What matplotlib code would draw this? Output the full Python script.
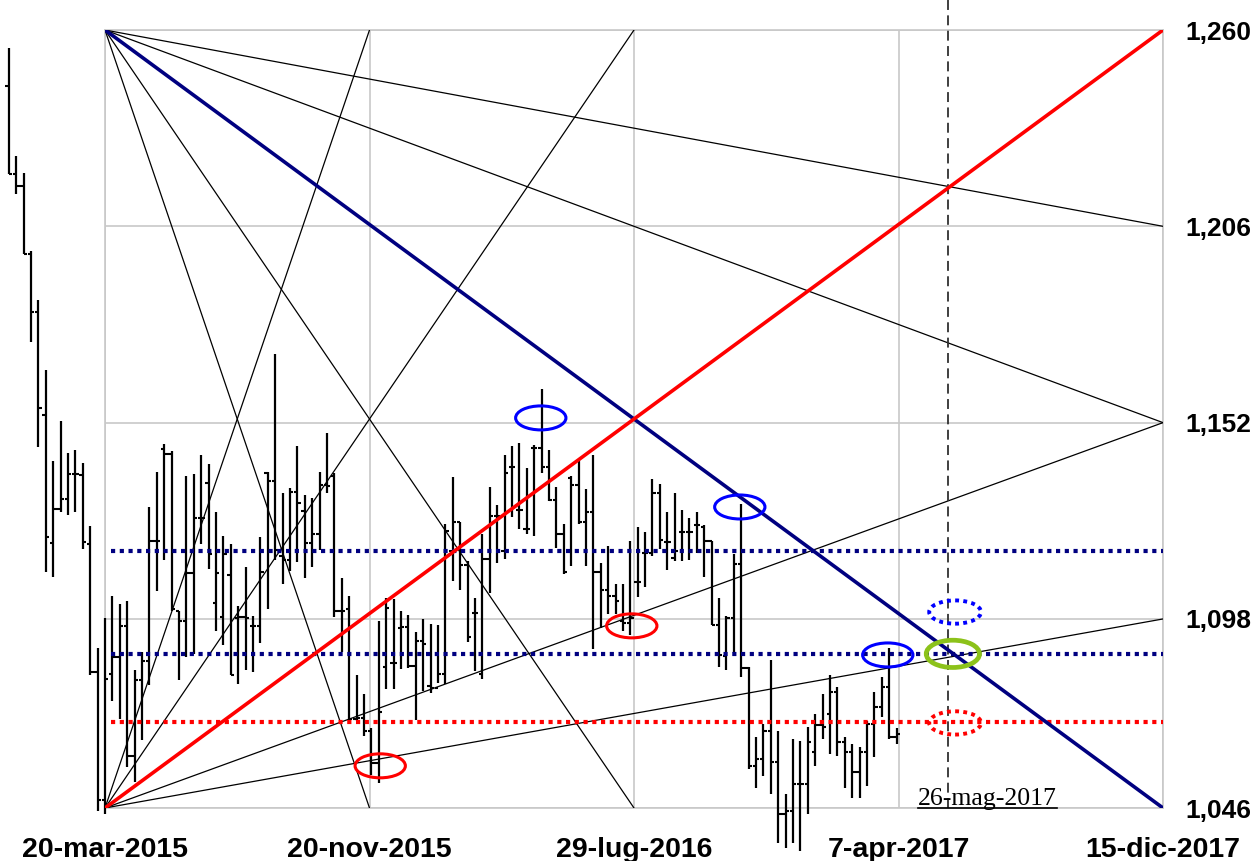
import numpy as np
import matplotlib.pyplot as plt
from matplotlib.patches import Ellipse
from matplotlib.lines import Line2D

# settimane rispetto al 20-mar-2015 (barre settimanali OHLC)
settimane = np.arange(-13, 108)

massimi = [1.2550, 1.2254, 1.2207, 1.1992, 1.1858, 1.1665, 1.1415, 1.1525, 1.1437, 1.1445, 1.1409, 1.1236, 1.0901,
           1.0983, 1.1044, 1.1022, 1.1030, 1.0840, 1.0890, 1.1288, 1.1385, 1.1462, 1.1442,
           1.1002, 1.1374, 1.1379, 1.1431, 1.1407, 1.1275, 1.1209, 1.1187, 1.1016, 1.1123,
           1.0989, 1.1206, 1.1385, 1.1709, 1.1327, 1.1341, 1.1456, 1.1321, 1.1313, 1.1385,
           1.1492, 1.1382, 1.1093, 1.1044, 1.0826, 1.0774, 1.0681, 1.0975, 1.1038, 1.1035,
           1.1002, 1.0991, 1.0945, 1.0980, 1.0967, 1.0964, 1.1241, 1.1371, 1.1247, 1.1140,
           1.1038, 1.1214, 1.1343, 1.1294, 1.1431, 1.1456, 1.1464, 1.1396, 1.1459, 1.1613,
           1.1445, 1.1343, 1.1241, 1.1374, 1.1420, 1.1338, 1.1431, 1.1134, 1.1181, 1.1077,
           1.1077, 1.1195, 1.1233, 1.1220, 1.1365, 1.1352, 1.1275, 1.1327, 1.1280, 1.1258,
           1.1275, 1.1239, 1.1195, 1.1038, 1.0989, 1.1159, 1.1297, 1.0848, 1.0656, 1.0692,
           1.0868, 1.0672, 1.0499, 1.0650, 1.0645, 1.0683, 1.0719, 1.0774, 1.0826, 1.0793,
           1.0656, 1.0637, 1.0628, 1.0700, 1.0780, 1.0821, 1.0901, 1.0680]

minimi = [1.2204, 1.2149, 1.1984, 1.1742, 1.1453, 1.1110, 1.1096, 1.1275, 1.1266, 1.1275, 1.1173, 1.0826, 1.0452,
          1.0444, 1.0755, 1.0705, 1.0573, 1.0532, 1.0648, 1.0799, 1.1057, 1.1143, 1.1002,
          1.0813, 1.0876, 1.0884, 1.1187, 1.1118, 1.0947, 1.0909, 1.0826, 1.0802, 1.0840,
          1.0835, 1.0914, 1.1008, 1.1143, 1.1077, 1.1112, 1.1137, 1.1093, 1.1123, 1.1170,
          1.1327, 1.0986, 1.0890, 1.0692, 1.0700, 1.0659, 1.0551, 1.0529, 1.0788, 1.0788,
          1.0843, 1.0846, 1.0703, 1.0782, 1.0777, 1.0804, 1.0802, 1.1085, 1.1060, 1.0917,
          1.0837, 1.0815, 1.1052, 1.1134, 1.1145, 1.1261, 1.1228, 1.1214, 1.1209, 1.1382,
          1.1305, 1.1176, 1.1104, 1.1126, 1.1241, 1.1126, 1.0898, 1.0956, 1.0994, 1.0994,
          1.0947, 1.0936, 1.1041, 1.1068, 1.1154, 1.1173, 1.1115, 1.1140, 1.1140, 1.1143,
          1.1162, 1.1096, 1.0964, 1.0848, 1.0840, 1.0887, 1.0821, 1.0568, 1.0516, 1.0549,
          1.0499, 1.0364, 1.0351, 1.0364, 1.0342, 1.0444, 1.0576, 1.0650, 1.0608, 1.0604,
          1.0516, 1.0488, 1.0488, 1.0521, 1.0601, 1.0711, 1.0650, 1.0637]

aperture = [1.2446, 1.2204, 1.2171, 1.1984, 1.1825, 1.1541, 1.1189, 1.1283, 1.1310, 1.1379, 1.1376, 1.1187, 1.0835,
            1.0483, 1.0829, 1.0876, 1.0961, 1.0604, 1.0813, 1.0865, 1.1195, 1.1448, 1.1434,
            1.1002, 1.0975, 1.1107, 1.1258, 1.1354, 1.1024, 1.0986, 1.1101, 1.0983, 1.0986,
            1.0961, 1.0961, 1.1382, 1.1360, 1.1154, 1.1143, 1.1330, 1.1277, 1.1189, 1.1214,
            1.1349, 1.1374, 1.1002, 1.1008, 1.0705, 1.0708, 1.0672, 1.0584, 1.0848, 1.0859,
            1.0956, 1.0958, 1.0851, 1.0920, 1.0796, 1.0791, 1.0829, 1.1167, 1.1247, 1.1129,
            1.0997, 1.0829, 1.1145, 1.1264, 1.1167, 1.1398, 1.1280, 1.1228, 1.1451, 1.1451,
            1.1398, 1.1308, 1.1214, 1.1368, 1.1349, 1.1247, 1.1275, 1.1110, 1.1060, 1.1044,
            1.0975, 1.0970, 1.1082, 1.1162, 1.1162, 1.1327, 1.1192, 1.1148, 1.1220, 1.1220,
            1.1239, 1.1233, 1.1195, 1.0964, 1.0879, 1.0983, 1.1132, 1.0846, 1.0576, 1.0595,
            1.0672, 1.0587, 1.0444, 1.0452, 1.0527, 1.0527, 1.0615, 1.0689, 1.0719, 1.0780,
            1.0642, 1.0615, 1.0560, 1.0615, 1.0692, 1.0738, 1.0793, 1.0656]

chiusure = [1.2204, 1.2171, 1.1984, 1.1825, 1.1561, 1.1206, 1.1283, 1.1310, 1.1379, 1.1379, 1.1192, 1.0835, 1.0483,
            1.0815, 1.0876, 1.0961, 1.0604, 1.0813, 1.0865, 1.1195, 1.1195, 1.1434, 1.1008,
            1.0975, 1.1107, 1.1258, 1.1258, 1.1159, 1.1107, 1.1159, 1.0826, 1.0986, 1.0983,
            1.0961, 1.1110, 1.1360, 1.1170, 1.1143, 1.1330, 1.1299, 1.1189, 1.1214, 1.1349,
            1.1346, 1.1002, 1.1002, 1.0705, 1.0708, 1.0672, 1.0584, 1.0725, 1.1011, 1.0859,
            1.0958, 1.0851, 1.0920, 1.0912, 1.0791, 1.0829, 1.1222, 1.1247, 1.1129, 1.0931,
            1.0997, 1.1145, 1.1264, 1.1264, 1.1382, 1.1398, 1.1280, 1.1228, 1.1451, 1.1398,
            1.1308, 1.1214, 1.1110, 1.1349, 1.1247, 1.1275, 1.1110, 1.1060, 1.1044, 1.1030,
            1.0970, 1.0983, 1.1082, 1.1162, 1.1327, 1.1198, 1.1192, 1.1167, 1.1220, 1.1220,
            1.1239, 1.1195, 1.0964, 1.0881, 1.0983, 1.1132, 1.0846, 1.0576, 1.0595, 1.0672,
            1.0587, 1.0444, 1.0452, 1.0527, 1.0527, 1.0642, 1.0689, 1.0683, 1.0780, 1.0642,
            1.0615, 1.0560, 1.0615, 1.0692, 1.0738, 1.0793, 1.0656, 1.0664]

# assi
fine = 143  # 15-dic-2017
etichette_x = ['20-mar-2015', '20-nov-2015', '29-lug-2016', '7-apr-2017', '15-dic-2017']
livelli_y = [1.046, 1.098, 1.152, 1.206, 1.260]
etichette_y = ['1,046', '1,098', '1,152', '1,206', '1,260']
p_alto, p_basso = 1.260, 1.046

# ventaglio di Gann: punto finale (settimana, prezzo)
fan_alto = [(143, 1.206), (143, 1.152), (71.5, 1.046), (35.75, 1.046)]
fan_basso = [(143, 1.152), (143, 1.098), (71.5, 1.260), (35.75, 1.260)]

livelli_blu = [1.1167, 1.0884]
livello_rosso = 1.0697
settimana_mag = 114  # 26-mag-2017

cerchi_blu = [(58.9, 1.1533), (85.8, 1.1288), (105.8, 1.0881)]
cerchi_rossi = [(37.2, 1.0576), (71.2, 1.0961)]
cerchio_verde = (114.6, 1.0884)
cerchi_punti = [(114.9, 1.0999, 'blue'), (114.9, 1.0694, 'red')]

plt.rcParams['font.family'] = ['Liberation Sans', 'DejaVu Sans']

fig = plt.figure(figsize=(12.55, 8.61), dpi=100)
ax = fig.add_axes([105 / 1255, 53 / 861, 1058 / 1255, 778 / 861])
ax.set_xlim(0, fine)
ax.set_ylim(p_basso, p_alto)

# griglia
grigio = '#c8c8c8'
for s in ax.spines.values():
    s.set_color(grigio)
    s.set_linewidth(1.2)
ax.set_xticks(np.linspace(0, fine, 5), etichette_x, fontsize=20.5, fontweight='bold')
ax.yaxis.tick_right()
ax.set_yticks(livelli_y, etichette_y, fontsize=19, fontweight='bold')
ax.tick_params(axis='x', length=0, pad=21)
ax.tick_params(axis='y', length=0, pad=16)
ax.grid(True, color=grigio, lw=1.2)
ax.set_axisbelow(True)

# barre OHLC
x = settimane
ax.vlines(x, minimi, massimi, color='black', lw=1.6, clip_on=False, zorder=3)
ax.hlines(aperture, x - 0.45, x, color='black', lw=1.5, clip_on=False, zorder=3)
ax.hlines(chiusure, x, x + 0.45, color='black', lw=1.5, clip_on=False, zorder=3)

# linee del ventaglio
for xf, yf in fan_alto:
    ax.plot([0, xf], [p_alto, yf], color='black', lw=0.9, zorder=4)
for xf, yf in fan_basso:
    ax.plot([0, xf], [p_basso, yf], color='black', lw=0.9, zorder=4)
ax.plot([0, fine], [p_alto, p_basso], color='#000080', lw=2.6, zorder=5)
ax.plot([0, fine], [p_basso, p_alto], color='#ff0000', lw=2.6, zorder=5)

# livelli orizzontali punteggiati
ax.hlines(livelli_blu, 0.8, fine, colors='#000080', lw=3, linestyles=(0, (1, 1.1)), zorder=4)
ax.hlines(livello_rosso, 0.8, fine, colors='#ff0000', lw=3, linestyles=(0, (1, 1.1)), zorder=4)

# linea verticale 26-mag-2017
ax.axvline(settimana_mag, ymin=0, ymax=1.039, color='#303030', lw=1.3,
           ls=(0, (5.5, 3)), clip_on=False, zorder=4)

# ellissi
w, h = 6.8, 0.0066
for cx, cy in cerchi_blu:
    ax.add_patch(Ellipse((cx, cy), w, h, fill=False, ec='#0000ff', lw=2.2, zorder=6))
for cx, cy in cerchi_rossi:
    ax.add_patch(Ellipse((cx, cy), w, h, fill=False, ec='#ff0000', lw=2.2, zorder=6))
for cx, cy, col in cerchi_punti:
    ax.add_patch(Ellipse((cx, cy), 7.0, 0.0064, fill=False, ec=col, lw=2.8,
                         ls=(0, (1, 1.1)), zorder=6))
ax.add_patch(Ellipse(cerchio_verde, 7.2, 0.0075, fill=False, ec='#8cc21a', lw=3.4, zorder=6))

# etichetta della data, sottolineata
testo = ax.annotate('26-mag-2017', xy=(settimana_mag, p_basso), xytext=(-22, 2),
                    textcoords='offset points', ha='left', va='baseline',
                    family='Liberation Serif', fontsize=18.5, zorder=7)
fig.canvas.draw()
bb = testo.get_window_extent()
y_base = ax.transData.transform((settimana_mag, p_basso))[1] + 2 * 100 / 72 - 3
p0 = fig.transFigure.inverted().transform((bb.x0, y_base))
p1 = fig.transFigure.inverted().transform((bb.x1, y_base))
fig.add_artist(Line2D([p0[0], p1[0]], [p0[1], p1[1]], color='black', lw=1.2))

fig.savefig('out.png', dpi=100)
